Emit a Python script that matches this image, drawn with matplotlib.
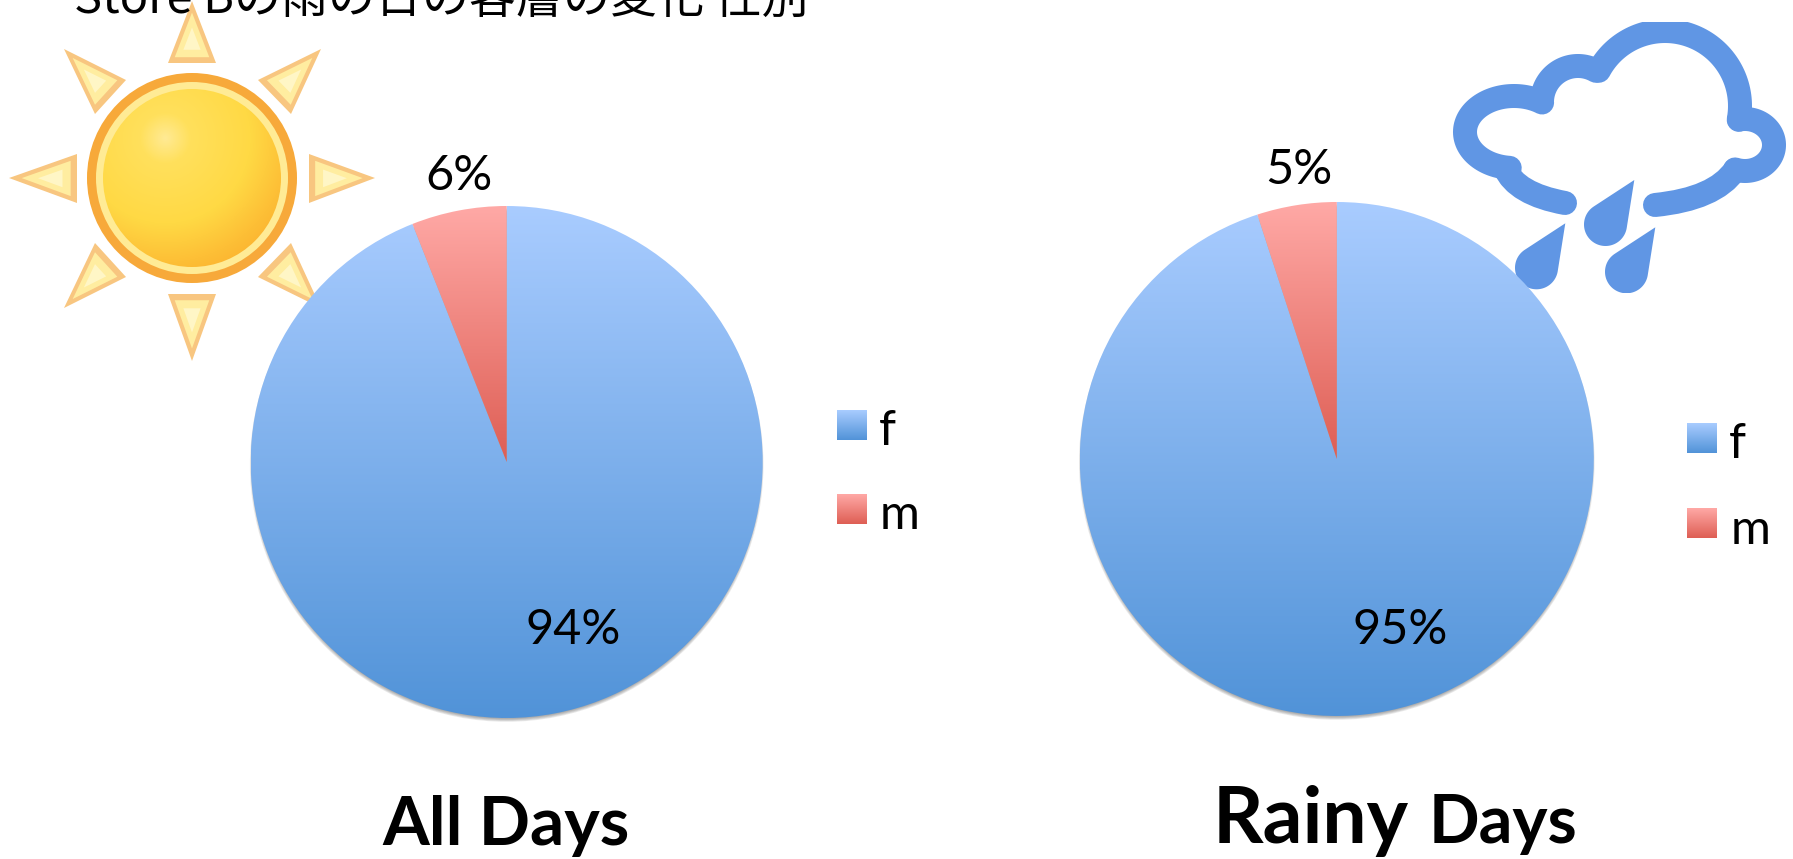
import numpy as np
import matplotlib
matplotlib.use("Agg")
import matplotlib.pyplot as plt
from matplotlib.patches import Circle, Polygon, PathPatch, Rectangle
from matplotlib.path import Path
from matplotlib.colors import LinearSegmentedColormap

# Chart data
categories = ["f", "m"]
all_days = [94, 6]
rainy_days = [95, 5]
heading = "Store Bの雨の日の客層の変化 性別"

W, H = 1793, 859
PX = 72 / 100
FONT = "Lato"

fem_cmap = LinearSegmentedColormap.from_list("fem", ["#A9CCFF", "#5193D8"])
male_cmap = LinearSegmentedColormap.from_list("male", ["#FFA9A6", "#DE5E54"])
slice_cmaps = [fem_cmap, male_cmap]

fig = plt.figure(figsize=(W / 100, H / 100), dpi=100, facecolor="white")

# Full-figure layer in pixel coordinates for the weather artwork and swatches
bg = fig.add_axes([0, 0, 1, 1], zorder=0)
bg.set_axis_off()


def vgrad(ax, cmap, extent, zorder=2, clip=None):
    grad = np.linspace(0, 1, 256).reshape(-1, 1)
    im = ax.imshow(grad, cmap=cmap, extent=extent, aspect="auto",
                   origin="upper", zorder=zorder, interpolation="bilinear")
    if clip is not None:
        im.set_clip_path(clip)
    return im


def lobe(cx, cy, rx, ry, start, end):
    """Open elliptical arc, angles in degrees with y pointing down."""
    t = np.radians(np.linspace(start, end, 80))
    return Path(np.column_stack([cx + rx * np.cos(t), cy + ry * np.sin(t)]))


def hook(p0, ctrl, p1):
    """Quadratic curve for the open ends along the cloud's base."""
    return Path([p0, ctrl, p1], [Path.MOVETO, Path.CURVE3, Path.CURVE3])


def teardrop(tip, centre, radius):
    """Circle body with straight tangents running up to a pointed tip."""
    tip = np.array(tip, float)
    centre = np.array(centre, float)
    gap = tip - centre
    base = np.arctan2(gap[1], gap[0])
    spread = np.arccos(radius / np.hypot(*gap))
    t = np.linspace(base + spread, base - spread + 2 * np.pi, 80)
    body = centre + radius * np.column_stack([np.cos(t), np.sin(t)])
    return np.vstack([tip, body])


# --- Sun ---
SUN_X, SUN_Y = 192, 178
rays = [
    [(192, 1), (168, 63), (216, 63)],
    [(192, 361), (168, 294), (216, 294)],
    [(9, 178), (77, 154), (77, 203)],
    [(375, 178), (309, 154), (309, 203)],
    [(64, 49), (126, 80), (95, 114)],
    [(321, 49), (258, 80), (291, 114)],
    [(64, 308), (126, 277), (95, 243)],
    [(321, 308), (258, 277), (291, 243)],
]
for tri in rays:
    tri = np.array(tri, float)
    mid = tri.mean(axis=0)
    for scale, colour in [(1.0, "#F8C680"), (0.72, "#FFEDA0"), (0.36, "#FFF6C6")]:
        bg.add_patch(Polygon(mid + (tri - mid) * scale, closed=True,
                             facecolor=colour, edgecolor="none", zorder=1))

bg.add_patch(Circle((SUN_X, SUN_Y), 105, facecolor="#F7A93A", edgecolor="none", zorder=2))
bg.add_patch(Circle((SUN_X, SUN_Y), 96, facecolor="#FFEB95", edgecolor="none", zorder=3))
core = Circle((SUN_X, SUN_Y), 89, facecolor="none", edgecolor="none", zorder=4)
bg.add_patch(core)
gx, gy = np.meshgrid(np.linspace(-1, 1, 220), np.linspace(-1, 1, 220))
dist = np.clip(np.hypot(gx + 0.3, gy + 0.45) / 1.75, 0, 1)
sun_cmap = LinearSegmentedColormap.from_list(
    "sun", [(0, "#FFEA94"), (0.16, "#FFE05C"), (0.55, "#FFD944"), (0.8, "#FDBF36"), (1, "#FBAD2C")])
sun_im = bg.imshow(dist, cmap=sun_cmap, vmin=0, vmax=1, aspect="auto", origin="upper",
                   extent=(SUN_X - 89, SUN_X + 89, SUN_Y + 89, SUN_Y - 89), zorder=4)
sun_im.set_clip_path(core)

# --- Rain cloud ---
CLOUD = "#6096E4"
cloud_strokes = [
    hook((1565, 203), (1516, 194), (1505, 168)),
    lobe(1514, 132, 49, 36, 95, 305),
    lobe(1578, 102, 36, 36, 183, 300),
    lobe(1665, 106, 75, 75, 208, 370.6),
    lobe(1745, 145, 29, 26, 258, 470),
    hook((1735, 170), (1715, 199), (1655, 205)),
]
cloud_clip = Rectangle((1440, 22), 353, 271, transform=bg.transData)
for stroke in cloud_strokes:
    patch = PathPatch(stroke, facecolor="none", edgecolor=CLOUD, lw=24 * PX,
                      capstyle="round", joinstyle="round", zorder=2)
    bg.add_patch(patch)
    patch.set_clip_path(cloud_clip)

drop_tip = np.array([1634.3, 180.0])
drop_body = np.array([1605.5, 224.5])
for dx, dy in [(0, 0), (21, 47.3), (-69, 43.3)]:
    shift = np.array([dx, dy])
    patch = Polygon(teardrop(drop_tip + shift, drop_body + shift, 21.5), closed=True,
                    facecolor=CLOUD, edgecolor="none", zorder=2)
    bg.add_patch(patch)
    patch.set_clip_path(cloud_clip)


# --- Pies ---
def draw_pie(values, cx, cy, radius):
    span = 1.08
    ax = fig.add_axes([(cx - span * radius) / W, 1 - (cy + span * radius) / H,
                       2 * span * radius / W, 2 * span * radius / H], zorder=1)
    ax.patch.set_alpha(0)
    wedges, _ = ax.pie(values, startangle=90, counterclock=False, radius=1,
                       wedgeprops=dict(facecolor="none", edgecolor="none", linewidth=0))
    ax.set_xlim(-span, span)
    ax.set_ylim(-span, span)
    ax.set_axis_off()

    # Soft drop shadow below the disc
    for step in range(5):
        grow = (1 - step) * 0.8 / radius
        ax.add_patch(Circle((0, -3 / radius), 1 + grow, facecolor="#5A5A5A",
                            edgecolor="none", alpha=0.13, zorder=0.5))

    # Each slice carries its own top-to-bottom gradient over its bounding box
    for wedge, cmap in zip(wedges, slice_cmaps):
        angles = np.radians(np.linspace(wedge.theta1, wedge.theta2, 361))
        xs = np.r_[0, np.cos(angles)]
        ys = np.r_[0, np.sin(angles)]
        vgrad(ax, cmap, (xs.min(), xs.max(), ys.min(), ys.max()), zorder=2, clip=wedge)
    ax.set_xlim(-span, span)
    ax.set_ylim(-span, span)
    return ax


draw_pie(all_days, 506.7, 462, 256)
draw_pie(rainy_days, 1336.8, 459, 257)


def put(x, y, s, size, **kw):
    kw.setdefault("family", FONT)
    kw.setdefault("color", "black")
    kw.setdefault("ha", "center")
    kw.setdefault("va", "baseline")
    fig.text(x / W, 1 - y / H, s, fontsize=size, zorder=5, **kw)


# Percentage labels
LABEL = 35
put(573, 644, f"{all_days[0]}%", LABEL)
put(459, 190, f"{all_days[1]}%", LABEL)
put(1400, 644, f"{rainy_days[0]}%", LABEL)
put(1299, 184, f"{rainy_days[1]}%", LABEL)

# Legends
legend_layout = [(837, [879, 880], [(410, 445), (494, 529)]),
                 (1687, [1729, 1731], [(423, 458), (508, 544)])]
for sx, text_x, rows in legend_layout:
    for name, cmap, tx, (sy, base) in zip(categories, slice_cmaps, text_x, rows):
        vgrad(bg, cmap, (sx, sx + 30, sy + 30, sy), zorder=3)
        put(tx, base, name, LABEL, ha="left")

# Captions under the pies
put(506, 845, "All Days", 48.5, weight="bold")
put(1213, 843, "Rainy", 56.5, weight="bold", ha="left")
put(1577, 843, "Days", 48, weight="bold", ha="right")

# Heading, running off the top edge
put(74, 13, heading, 33.8, ha="left", family=["Noto Sans CJK JP", "DejaVu Sans"])

bg.set_xlim(0, W)
bg.set_ylim(H, 0)

fig.savefig("out.png", dpi=100, facecolor="white")
